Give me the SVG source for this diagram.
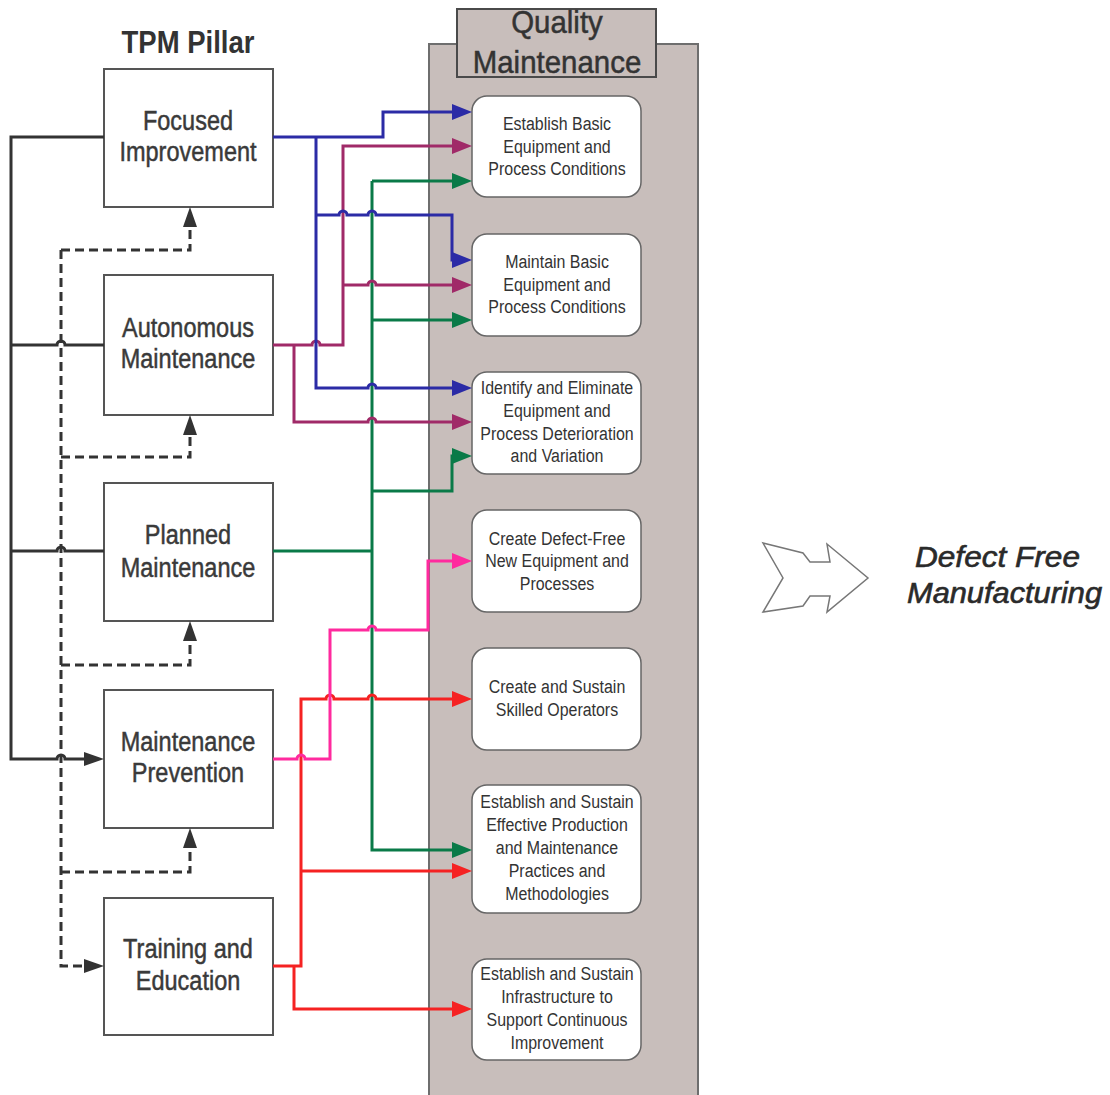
<svg xmlns="http://www.w3.org/2000/svg" width="1110" height="1095" viewBox="0 0 1110 1095">
<style>
.pillar rect{fill:#fff;stroke:#555;stroke-width:2}
.pillar text{font-family:"Liberation Sans",Arial,sans-serif;font-size:28px;fill:#3a3a3a;stroke:#3a3a3a;stroke-width:0.5;text-anchor:middle}
.goal rect{fill:#fff;stroke:#666;stroke-width:1.5}
.goal text{font-family:"Liberation Sans",Arial,sans-serif;font-size:19px;fill:#333;text-anchor:middle}
.c{fill:none;stroke-width:3;stroke-linejoin:miter}
.dk{stroke:#333}
.ds{stroke:#333;stroke-dasharray:9 5}
.bl{stroke:#2b2ba6}
.pu{stroke:#a02a68}
.gr{stroke:#0a7a48}
.pk{stroke:#ff2a9e}
.rd{stroke:#f52222}
</style>
<defs>
<marker id="aDk" markerUnits="userSpaceOnUse" markerWidth="20" markerHeight="14" viewBox="0 0 20 14" refX="14" refY="7" orient="auto"><path d="M0,0 L20,7 L0,14 z" fill="#333"/></marker>
<marker id="aBl" markerUnits="userSpaceOnUse" markerWidth="20" markerHeight="16" viewBox="0 0 20 16" refX="14" refY="8" orient="auto"><path d="M0,0 L20,8 L0,16 z" fill="#2b2ba6"/></marker>
<marker id="aPu" markerUnits="userSpaceOnUse" markerWidth="20" markerHeight="16" viewBox="0 0 20 16" refX="14" refY="8" orient="auto"><path d="M0,0 L20,8 L0,16 z" fill="#a02a68"/></marker>
<marker id="aGr" markerUnits="userSpaceOnUse" markerWidth="20" markerHeight="16" viewBox="0 0 20 16" refX="14" refY="8" orient="auto"><path d="M0,0 L20,8 L0,16 z" fill="#0a7a48"/></marker>
<marker id="aPk" markerUnits="userSpaceOnUse" markerWidth="20" markerHeight="16" viewBox="0 0 20 16" refX="14" refY="8" orient="auto"><path d="M0,0 L20,8 L0,16 z" fill="#ff2a9e"/></marker>
<marker id="aRd" markerUnits="userSpaceOnUse" markerWidth="20" markerHeight="16" viewBox="0 0 20 16" refX="14" refY="8" orient="auto"><path d="M0,0 L20,8 L0,16 z" fill="#f52222"/></marker>
</defs>
<rect width="1110" height="1095" fill="#fff"/>

<text x="0" y="53" transform="matrix(0.86,0,0,1,188,0)" font-family="Liberation Sans,Arial,sans-serif" font-size="32" font-weight="bold" fill="#333" text-anchor="middle">TPM Pillar</text>

<g id="qm-panel">
<rect x="429" y="44" width="269" height="1070" fill="#c8bebb" stroke="#6e6e6e" stroke-width="2"/>
<rect x="457" y="9" width="199" height="68" fill="#c8bebb" stroke="#4a4a4a" stroke-width="2"/>
<g transform="matrix(0.92,0,0,1,557,0)" font-family="Liberation Sans,Arial,sans-serif" font-size="32" fill="#333" stroke="#333" stroke-width="0.5" text-anchor="middle">
<text x="0" y="33">Quality</text>
<text x="0" y="73">Maintenance</text>
</g>
</g>

<g id="pillar-fi" class="pillar"><rect x="104" y="69" width="169" height="138"/><g transform="matrix(0.84,0,0,1,188,0)"><text x="0" y="130">Focused</text><text x="0" y="161">Improvement</text></g></g>
<g id="pillar-am" class="pillar"><rect x="104" y="275" width="169" height="140"/><g transform="matrix(0.84,0,0,1,188,0)"><text x="0" y="337">Autonomous</text><text x="0" y="368">Maintenance</text></g></g>
<g id="pillar-pm" class="pillar"><rect x="104" y="483" width="169" height="138"/><g transform="matrix(0.84,0,0,1,188,0)"><text x="0" y="544">Planned</text><text x="0" y="577">Maintenance</text></g></g>
<g id="pillar-mp" class="pillar"><rect x="104" y="690" width="169" height="138"/><g transform="matrix(0.84,0,0,1,188,0)"><text x="0" y="751">Maintenance</text><text x="0" y="782">Prevention</text></g></g>
<g id="pillar-te" class="pillar"><rect x="104" y="898" width="169" height="137"/><g transform="matrix(0.84,0,0,1,188,0)"><text x="0" y="958">Training and</text><text x="0" y="990">Education</text></g></g>

<g id="goal-1" class="goal"><rect x="472" y="96" width="169" height="101" rx="15"/><g transform="matrix(0.84,0,0,1,557,0)"><text x="0" y="130">Establish Basic</text><text x="0" y="153">Equipment and</text><text x="0" y="175">Process Conditions</text></g></g>
<g id="goal-2" class="goal"><rect x="472" y="234" width="169" height="102" rx="15"/><g transform="matrix(0.84,0,0,1,557,0)"><text x="0" y="268">Maintain Basic</text><text x="0" y="291">Equipment and</text><text x="0" y="313">Process Conditions</text></g></g>
<g id="goal-3" class="goal"><rect x="472" y="372" width="169" height="102" rx="15"/><g transform="matrix(0.84,0,0,1,557,0)"><text x="0" y="394">Identify and Eliminate</text><text x="0" y="417">Equipment and</text><text x="0" y="440">Process Deterioration</text><text x="0" y="462">and Variation</text></g></g>
<g id="goal-4" class="goal"><rect x="472" y="510" width="169" height="102" rx="15"/><g transform="matrix(0.84,0,0,1,557,0)"><text x="0" y="545">Create Defect-Free</text><text x="0" y="567">New Equipment and</text><text x="0" y="590">Processes</text></g></g>
<g id="goal-5" class="goal"><rect x="472" y="648" width="169" height="102" rx="15"/><g transform="matrix(0.84,0,0,1,557,0)"><text x="0" y="693">Create and Sustain</text><text x="0" y="716">Skilled Operators</text></g></g>
<g id="goal-6" class="goal"><rect x="472" y="785" width="169" height="128" rx="15"/><g transform="matrix(0.84,0,0,1,557,0)"><text x="0" y="808">Establish and Sustain</text><text x="0" y="831">Effective Production</text><text x="0" y="854">and Maintenance</text><text x="0" y="877">Practices and</text><text x="0" y="900">Methodologies</text></g></g>
<g id="goal-7" class="goal"><rect x="472" y="959" width="169" height="101" rx="15"/><g transform="matrix(0.84,0,0,1,557,0)"><text x="0" y="980">Establish and Sustain</text><text x="0" y="1003">Infrastructure to</text><text x="0" y="1026">Support Continuous</text><text x="0" y="1049">Improvement</text></g></g>

<g id="result">
<polygon points="763,543 803,553 810,562 830,562 827,544 868,578 827,612 830,596 810,596 803,606 763,612 783,578" fill="#fff" stroke="#777" stroke-width="1.5"/>
<text x="915" y="567" textLength="165" lengthAdjust="spacingAndGlyphs" font-family="Liberation Sans,Arial,sans-serif" font-size="29" font-style="italic" fill="#2a2a2a" stroke="#2a2a2a" stroke-width="0.6">Defect Free</text>
<text x="907" y="603" textLength="195" lengthAdjust="spacingAndGlyphs" font-family="Liberation Sans,Arial,sans-serif" font-size="29" font-style="italic" fill="#2a2a2a" stroke="#2a2a2a" stroke-width="0.6">Manufacturing</text>
</g>

<g id="connectors">
<path class="c dk" d="M104,137 H11 V759 H57 a4,4 0 0 1 8,0 H98" marker-end="url(#aDk)"/>
<path class="c dk" d="M104,345 H65 a4,4 0 0 0 -8,0 H11"/>
<path class="c dk" d="M104,551 H65 a4,4 0 0 0 -8,0 H11"/>
<path class="c ds" d="M61,250 H190 V213" marker-end="url(#aDk)"/>
<path class="c ds" d="M61,250 V966 H98" marker-end="url(#aDk)"/>
<path class="c ds" d="M61,457 H190 V421" marker-end="url(#aDk)"/>
<path class="c ds" d="M61,665 H190 V627" marker-end="url(#aDk)"/>
<path class="c ds" d="M61,872 H190 V834" marker-end="url(#aDk)"/>

<path class="c gr" d="M273,551 H372"/>
<path class="c gr" d="M372,181 H466" marker-end="url(#aGr)"/>
<path class="c gr" d="M372,181 V850 H466" marker-end="url(#aGr)"/>
<path class="c gr" d="M372,320 H466" marker-end="url(#aGr)"/>
<path class="c gr" d="M372,491 H452 V456 H466" marker-end="url(#aGr)"/>

<path class="c pu" d="M273,345 H312 a4,4 0 0 1 8,0 H343 V146 H466" marker-end="url(#aPu)"/>
<path class="c pu" d="M343,285 H368 a4,4 0 0 1 8,0 H466" marker-end="url(#aPu)"/>
<path class="c pu" d="M294,345 V422 H368 a4,4 0 0 1 8,0 H466" marker-end="url(#aPu)"/>

<path class="c bl" d="M273,137 H383 V112 H466" marker-end="url(#aBl)"/>
<path class="c bl" d="M316,137 V388 H368 a4,4 0 0 1 8,0 H466" marker-end="url(#aBl)"/>
<path class="c bl" d="M316,215 H339 a4,4 0 0 1 8,0 H368 a4,4 0 0 1 8,0 H452 V260 H466" marker-end="url(#aBl)"/>

<path class="c rd" d="M273,966 H301 V699 H326 a4,4 0 0 1 8,0 H368 a4,4 0 0 1 8,0 H466" marker-end="url(#aRd)"/>
<path class="c rd" d="M301,871 H466" marker-end="url(#aRd)"/>
<path class="c rd" d="M294,966 V1009 H466" marker-end="url(#aRd)"/>

<path class="c pk" d="M273,759 H297 a4,4 0 0 1 8,0 H330 V630 H368 a4,4 0 0 1 8,0 H428 V561 H466" marker-end="url(#aPk)"/>
</g>
</svg>
